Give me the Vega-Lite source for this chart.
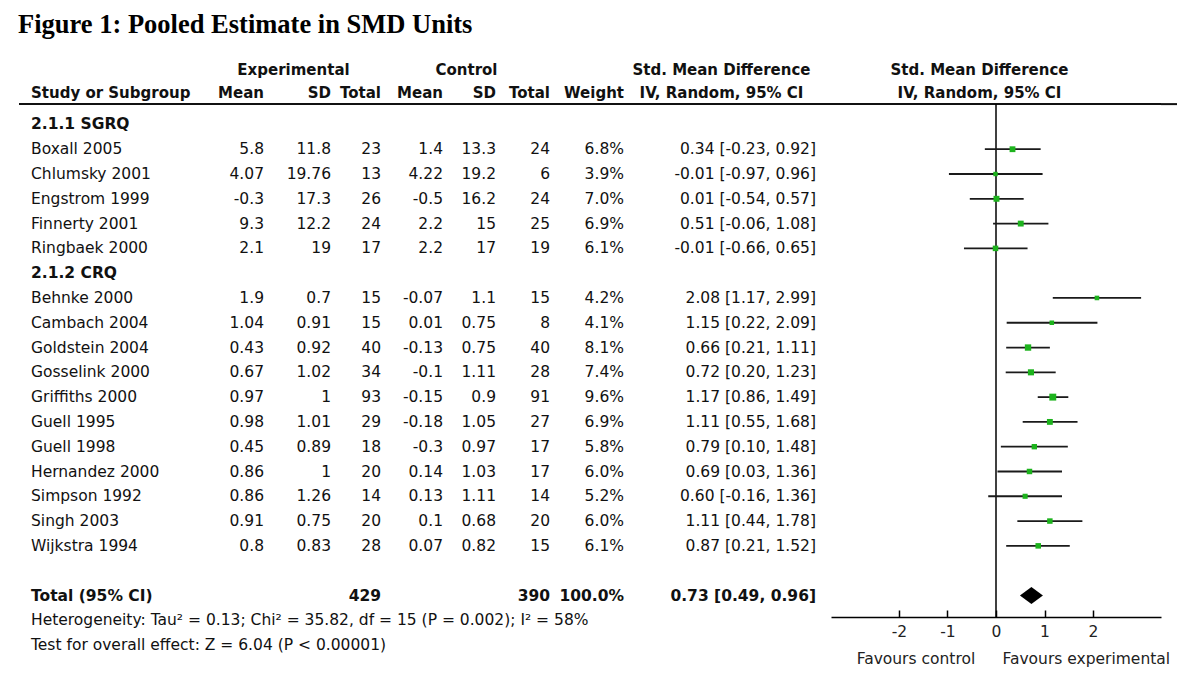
{
  "$schema": "https://vega.github.io/schema/vega-lite/v6.json",
  "background": "white",
  "padding": {"left": 18, "top": 12, "right": 24, "bottom": 0},
  "title": {"text": "Figure 1: Pooled Estimate in SMD Units", "anchor": "start", "font": "Liberation Serif", "fontSize": 26.5, "fontWeight": "bold", "color": "#000", "offset": 18.5},
  "spacing": 0,
  "bounds": "flush",
  "config": {
    "view": {"stroke": null},
    "text": {"font": "DejaVu Sans", "fontSize": 15.5, "color": "#111", "baseline": "middle"}
  },
  "datasets": {
    "rows": [
      {"row": 0, "kind": "group", "label": "2.1.1 SGRQ"},
      {"row": 1, "kind": "study", "label": "Boxall 2005", "me": 5.8, "sde": 11.8, "ne": 23, "mc": 1.4, "sdc": 13.3, "nc": 24, "weight": 0.068, "ci": "0.34 [-0.23, 0.92]", "est": 0.34, "lo": -0.23, "hi": 0.92},
      {"row": 2, "kind": "study", "label": "Chlumsky 2001", "me": 4.07, "sde": 19.76, "ne": 13, "mc": 4.22, "sdc": 19.2, "nc": 6, "weight": 0.039, "ci": "-0.01 [-0.97, 0.96]", "est": -0.01, "lo": -0.97, "hi": 0.96},
      {"row": 3, "kind": "study", "label": "Engstrom 1999", "me": -0.3, "sde": 17.3, "ne": 26, "mc": -0.5, "sdc": 16.2, "nc": 24, "weight": 0.07, "ci": "0.01 [-0.54, 0.57]", "est": 0.01, "lo": -0.54, "hi": 0.57},
      {"row": 4, "kind": "study", "label": "Finnerty 2001", "me": 9.3, "sde": 12.2, "ne": 24, "mc": 2.2, "sdc": 15, "nc": 25, "weight": 0.069, "ci": "0.51 [-0.06, 1.08]", "est": 0.51, "lo": -0.06, "hi": 1.08},
      {"row": 5, "kind": "study", "label": "Ringbaek 2000", "me": 2.1, "sde": 19, "ne": 17, "mc": 2.2, "sdc": 17, "nc": 19, "weight": 0.061, "ci": "-0.01 [-0.66, 0.65]", "est": -0.01, "lo": -0.66, "hi": 0.65},
      {"row": 6, "kind": "group", "label": "2.1.2 CRQ"},
      {"row": 7, "kind": "study", "label": "Behnke 2000", "me": 1.9, "sde": 0.7, "ne": 15, "mc": -0.07, "sdc": 1.1, "nc": 15, "weight": 0.042, "ci": "2.08 [1.17, 2.99]", "est": 2.08, "lo": 1.17, "hi": 2.99},
      {"row": 8, "kind": "study", "label": "Cambach 2004", "me": 1.04, "sde": 0.91, "ne": 15, "mc": 0.01, "sdc": 0.75, "nc": 8, "weight": 0.041, "ci": "1.15 [0.22, 2.09]", "est": 1.15, "lo": 0.22, "hi": 2.09},
      {"row": 9, "kind": "study", "label": "Goldstein 2004", "me": 0.43, "sde": 0.92, "ne": 40, "mc": -0.13, "sdc": 0.75, "nc": 40, "weight": 0.081, "ci": "0.66 [0.21, 1.11]", "est": 0.66, "lo": 0.21, "hi": 1.11},
      {"row": 10, "kind": "study", "label": "Gosselink 2000", "me": 0.67, "sde": 1.02, "ne": 34, "mc": -0.1, "sdc": 1.11, "nc": 28, "weight": 0.074, "ci": "0.72 [0.20, 1.23]", "est": 0.72, "lo": 0.2, "hi": 1.23},
      {"row": 11, "kind": "study", "label": "Griffiths 2000", "me": 0.97, "sde": 1, "ne": 93, "mc": -0.15, "sdc": 0.9, "nc": 91, "weight": 0.096, "ci": "1.17 [0.86, 1.49]", "est": 1.17, "lo": 0.86, "hi": 1.49},
      {"row": 12, "kind": "study", "label": "Guell 1995", "me": 0.98, "sde": 1.01, "ne": 29, "mc": -0.18, "sdc": 1.05, "nc": 27, "weight": 0.069, "ci": "1.11 [0.55, 1.68]", "est": 1.11, "lo": 0.55, "hi": 1.68},
      {"row": 13, "kind": "study", "label": "Guell 1998", "me": 0.45, "sde": 0.89, "ne": 18, "mc": -0.3, "sdc": 0.97, "nc": 17, "weight": 0.058, "ci": "0.79 [0.10, 1.48]", "est": 0.79, "lo": 0.1, "hi": 1.48},
      {"row": 14, "kind": "study", "label": "Hernandez 2000", "me": 0.86, "sde": 1, "ne": 20, "mc": 0.14, "sdc": 1.03, "nc": 17, "weight": 0.06, "ci": "0.69 [0.03, 1.36]", "est": 0.69, "lo": 0.03, "hi": 1.36},
      {"row": 15, "kind": "study", "label": "Simpson 1992", "me": 0.86, "sde": 1.26, "ne": 14, "mc": 0.13, "sdc": 1.11, "nc": 14, "weight": 0.052, "ci": "0.60 [-0.16, 1.36]", "est": 0.6, "lo": -0.16, "hi": 1.36},
      {"row": 16, "kind": "study", "label": "Singh 2003", "me": 0.91, "sde": 0.75, "ne": 20, "mc": 0.1, "sdc": 0.68, "nc": 20, "weight": 0.06, "ci": "1.11 [0.44, 1.78]", "est": 1.11, "lo": 0.44, "hi": 1.78},
      {"row": 17, "kind": "study", "label": "Wijkstra 1994", "me": 0.8, "sde": 0.83, "ne": 28, "mc": 0.07, "sdc": 0.82, "nc": 15, "weight": 0.061, "ci": "0.87 [0.21, 1.52]", "est": 0.87, "lo": 0.21, "hi": 1.52},
      {"row": 19, "kind": "total", "label": "Total (95% CI)", "ne": 429, "nc": 390, "weight": 1.0, "ci": "0.73 [0.49, 0.96]", "est": 0.73, "lo": 0.49, "hi": 0.96},
      {"row": 20, "kind": "note", "label": "Heterogeneity: Tau² = 0.13; Chi² = 35.82, df = 15 (P = 0.002); I² = 58%"},
      {"row": 21, "kind": "note", "label": "Test for overall effect: Z = 6.04 (P < 0.00001)"}
    ]
  },
  "data": {"name": "rows"},
  "hconcat": [
    {
      "width": 197, "height": 600,
      "layer": [
        {"data": {"values": [{}]}, "mark": {"type": "text", "align": "left", "dx": 12, "fontWeight": "bold", "fontSize": 15},
         "encoding": {"x": {"value": 0}, "y": {"datum": -1.27, "type": "quantitative", "scale": {"domain": [-2.72, 21.48], "nice": false, "zero": false, "reverse": true}, "axis": null}, "text": {"value": "Study or Subgroup"}}},
        {"transform": [{"filter": "datum.kind === 'group' || datum.kind === 'total'"}], "mark": {"type": "text", "align": "left", "dx": 12, "fontWeight": "bold"},
         "encoding": {"x": {"value": 0}, "y": {"field": "row", "type": "quantitative", "scale": {"domain": [-2.72, 21.48], "nice": false, "zero": false, "reverse": true}, "axis": null}, "text": {"field": "label", "type": "nominal"}}},
        {"transform": [{"filter": "datum.kind === 'study' || datum.kind === 'note'"}], "mark": {"type": "text", "align": "left", "dx": 12},
         "encoding": {"x": {"value": 0}, "y": {"field": "row", "type": "quantitative", "scale": {"domain": [-2.72, 21.48], "nice": false, "zero": false, "reverse": true}, "axis": null}, "text": {"field": "label", "type": "nominal"}}},
        {"data": {"values": [{}]}, "mark": {"type": "rule", "color": "#111", "strokeWidth": 2},
         "encoding": {"y": {"datum": -0.82, "type": "quantitative", "scale": {"domain": [-2.72, 21.48], "nice": false, "zero": false, "reverse": true}, "axis": null}}}
      ]
    },
    {
      "width": 48, "height": 600,
      "layer": [
        {"data": {"values": [{}]}, "mark": {"type": "text", "align": "right", "fontWeight": "bold", "fontSize": 15},
         "encoding": {"x": {"value": "width"}, "y": {"datum": -1.27, "type": "quantitative", "scale": {"domain": [-2.72, 21.48], "nice": false, "zero": false, "reverse": true}, "axis": null}, "text": {"value": "Mean"}}},
        {"transform": [{"filter": "datum.kind === 'study'"}], "mark": {"type": "text", "align": "right"},
         "encoding": {"x": {"value": "width"}, "y": {"field": "row", "type": "quantitative", "scale": {"domain": [-2.72, 21.48], "nice": false, "zero": false, "reverse": true}, "axis": null}, "text": {"field": "me", "type": "nominal"}}},
        {"data": {"values": [{}]}, "mark": {"type": "rule", "color": "#111", "strokeWidth": 2},
         "encoding": {"y": {"datum": -0.82, "type": "quantitative", "scale": {"domain": [-2.72, 21.48], "nice": false, "zero": false, "reverse": true}, "axis": null}}}
      ]
    },
    {
      "width": 67, "height": 600,
      "layer": [
        {"data": {"values": [{}]}, "mark": {"type": "text", "align": "right", "fontWeight": "bold", "fontSize": 15},
         "encoding": {"x": {"value": "width"}, "y": {"datum": -1.27, "type": "quantitative", "scale": {"domain": [-2.72, 21.48], "nice": false, "zero": false, "reverse": true}, "axis": null}, "text": {"value": "SD"}}},
        {"data": {"values": [{}]}, "mark": {"type": "text", "align": "center", "dx": -4, "fontWeight": "bold", "fontSize": 15},
         "encoding": {"y": {"datum": -2.19, "type": "quantitative", "scale": {"domain": [-2.72, 21.48], "nice": false, "zero": false, "reverse": true}, "axis": null}, "text": {"value": "Experimental"}}},
        {"transform": [{"filter": "datum.kind === 'study'"}], "mark": {"type": "text", "align": "right"},
         "encoding": {"x": {"value": "width"}, "y": {"field": "row", "type": "quantitative", "scale": {"domain": [-2.72, 21.48], "nice": false, "zero": false, "reverse": true}, "axis": null}, "text": {"field": "sde", "type": "nominal"}}},
        {"data": {"values": [{}]}, "mark": {"type": "rule", "color": "#111", "strokeWidth": 2},
         "encoding": {"y": {"datum": -0.82, "type": "quantitative", "scale": {"domain": [-2.72, 21.48], "nice": false, "zero": false, "reverse": true}, "axis": null}}}
      ]
    },
    {
      "width": 50, "height": 600,
      "layer": [
        {"data": {"values": [{}]}, "mark": {"type": "text", "align": "right", "fontWeight": "bold", "fontSize": 15},
         "encoding": {"x": {"value": "width"}, "y": {"datum": -1.27, "type": "quantitative", "scale": {"domain": [-2.72, 21.48], "nice": false, "zero": false, "reverse": true}, "axis": null}, "text": {"value": "Total"}}},
        {"transform": [{"filter": "datum.kind === 'study'"}], "mark": {"type": "text", "align": "right"},
         "encoding": {"x": {"value": "width"}, "y": {"field": "row", "type": "quantitative", "scale": {"domain": [-2.72, 21.48], "nice": false, "zero": false, "reverse": true}, "axis": null}, "text": {"field": "ne", "type": "nominal"}}},
        {"transform": [{"filter": "datum.kind === 'total'"}], "mark": {"type": "text", "align": "right", "fontWeight": "bold"},
         "encoding": {"x": {"value": "width"}, "y": {"field": "row", "type": "quantitative", "scale": {"domain": [-2.72, 21.48], "nice": false, "zero": false, "reverse": true}, "axis": null}, "text": {"field": "ne", "type": "nominal"}}},
        {"data": {"values": [{}]}, "mark": {"type": "rule", "color": "#111", "strokeWidth": 2},
         "encoding": {"y": {"datum": -0.82, "type": "quantitative", "scale": {"domain": [-2.72, 21.48], "nice": false, "zero": false, "reverse": true}, "axis": null}}}
      ]
    },
    {
      "width": 62, "height": 600,
      "layer": [
        {"data": {"values": [{}]}, "mark": {"type": "text", "align": "right", "fontWeight": "bold", "fontSize": 15},
         "encoding": {"x": {"value": "width"}, "y": {"datum": -1.27, "type": "quantitative", "scale": {"domain": [-2.72, 21.48], "nice": false, "zero": false, "reverse": true}, "axis": null}, "text": {"value": "Mean"}}},
        {"transform": [{"filter": "datum.kind === 'study'"}], "mark": {"type": "text", "align": "right"},
         "encoding": {"x": {"value": "width"}, "y": {"field": "row", "type": "quantitative", "scale": {"domain": [-2.72, 21.48], "nice": false, "zero": false, "reverse": true}, "axis": null}, "text": {"field": "mc", "type": "nominal"}}},
        {"data": {"values": [{}]}, "mark": {"type": "rule", "color": "#111", "strokeWidth": 2},
         "encoding": {"y": {"datum": -0.82, "type": "quantitative", "scale": {"domain": [-2.72, 21.48], "nice": false, "zero": false, "reverse": true}, "axis": null}}}
      ]
    },
    {
      "width": 53, "height": 600,
      "layer": [
        {"data": {"values": [{}]}, "mark": {"type": "text", "align": "right", "fontWeight": "bold", "fontSize": 15},
         "encoding": {"x": {"value": "width"}, "y": {"datum": -1.27, "type": "quantitative", "scale": {"domain": [-2.72, 21.48], "nice": false, "zero": false, "reverse": true}, "axis": null}, "text": {"value": "SD"}}},
        {"data": {"values": [{}]}, "mark": {"type": "text", "align": "center", "dx": -3, "fontWeight": "bold", "fontSize": 15},
         "encoding": {"y": {"datum": -2.19, "type": "quantitative", "scale": {"domain": [-2.72, 21.48], "nice": false, "zero": false, "reverse": true}, "axis": null}, "text": {"value": "Control"}}},
        {"transform": [{"filter": "datum.kind === 'study'"}], "mark": {"type": "text", "align": "right"},
         "encoding": {"x": {"value": "width"}, "y": {"field": "row", "type": "quantitative", "scale": {"domain": [-2.72, 21.48], "nice": false, "zero": false, "reverse": true}, "axis": null}, "text": {"field": "sdc", "type": "nominal"}}},
        {"data": {"values": [{}]}, "mark": {"type": "rule", "color": "#111", "strokeWidth": 2},
         "encoding": {"y": {"datum": -0.82, "type": "quantitative", "scale": {"domain": [-2.72, 21.48], "nice": false, "zero": false, "reverse": true}, "axis": null}}}
      ]
    },
    {
      "width": 54, "height": 600,
      "layer": [
        {"data": {"values": [{}]}, "mark": {"type": "text", "align": "right", "fontWeight": "bold", "fontSize": 15},
         "encoding": {"x": {"value": "width"}, "y": {"datum": -1.27, "type": "quantitative", "scale": {"domain": [-2.72, 21.48], "nice": false, "zero": false, "reverse": true}, "axis": null}, "text": {"value": "Total"}}},
        {"transform": [{"filter": "datum.kind === 'study'"}], "mark": {"type": "text", "align": "right"},
         "encoding": {"x": {"value": "width"}, "y": {"field": "row", "type": "quantitative", "scale": {"domain": [-2.72, 21.48], "nice": false, "zero": false, "reverse": true}, "axis": null}, "text": {"field": "nc", "type": "nominal"}}},
        {"transform": [{"filter": "datum.kind === 'total'"}], "mark": {"type": "text", "align": "right", "fontWeight": "bold"},
         "encoding": {"x": {"value": "width"}, "y": {"field": "row", "type": "quantitative", "scale": {"domain": [-2.72, 21.48], "nice": false, "zero": false, "reverse": true}, "axis": null}, "text": {"field": "nc", "type": "nominal"}}},
        {"data": {"values": [{}]}, "mark": {"type": "rule", "color": "#111", "strokeWidth": 2},
         "encoding": {"y": {"datum": -0.82, "type": "quantitative", "scale": {"domain": [-2.72, 21.48], "nice": false, "zero": false, "reverse": true}, "axis": null}}}
      ]
    },
    {
      "width": 74, "height": 600,
      "layer": [
        {"data": {"values": [{}]}, "mark": {"type": "text", "align": "right", "fontWeight": "bold", "fontSize": 15},
         "encoding": {"x": {"value": "width"}, "y": {"datum": -1.27, "type": "quantitative", "scale": {"domain": [-2.72, 21.48], "nice": false, "zero": false, "reverse": true}, "axis": null}, "text": {"value": "Weight"}}},
        {"transform": [{"filter": "datum.kind === 'study'"}], "mark": {"type": "text", "align": "right"},
         "encoding": {"x": {"value": "width"}, "y": {"field": "row", "type": "quantitative", "scale": {"domain": [-2.72, 21.48], "nice": false, "zero": false, "reverse": true}, "axis": null}, "text": {"field": "weight", "type": "quantitative", "format": ".1%"}}},
        {"transform": [{"filter": "datum.kind === 'total'"}], "mark": {"type": "text", "align": "right", "fontWeight": "bold"},
         "encoding": {"x": {"value": "width"}, "y": {"field": "row", "type": "quantitative", "scale": {"domain": [-2.72, 21.48], "nice": false, "zero": false, "reverse": true}, "axis": null}, "text": {"field": "weight", "type": "quantitative", "format": ".1%"}}},
        {"data": {"values": [{}]}, "mark": {"type": "rule", "color": "#111", "strokeWidth": 2},
         "encoding": {"y": {"datum": -0.82, "type": "quantitative", "scale": {"domain": [-2.72, 21.48], "nice": false, "zero": false, "reverse": true}, "axis": null}}}
      ]
    },
    {
      "width": 207, "height": 600,
      "layer": [
        {"data": {"values": [{}]}, "mark": {"type": "text", "align": "center", "dx": -6, "fontWeight": "bold", "fontSize": 15},
         "encoding": {"y": {"datum": -2.19, "type": "quantitative", "scale": {"domain": [-2.72, 21.48], "nice": false, "zero": false, "reverse": true}, "axis": null}, "text": {"value": "Std. Mean Difference"}}},
        {"data": {"values": [{}]}, "mark": {"type": "text", "align": "center", "dx": -6, "fontWeight": "bold", "fontSize": 15},
         "encoding": {"y": {"datum": -1.27, "type": "quantitative", "scale": {"domain": [-2.72, 21.48], "nice": false, "zero": false, "reverse": true}, "axis": null}, "text": {"value": "IV, Random, 95% CI"}}},
        {"transform": [{"filter": "datum.kind === 'study'"}], "mark": {"type": "text", "align": "right", "dx": -15},
         "encoding": {"x": {"value": "width"}, "y": {"field": "row", "type": "quantitative", "scale": {"domain": [-2.72, 21.48], "nice": false, "zero": false, "reverse": true}, "axis": null}, "text": {"field": "ci", "type": "nominal"}}},
        {"transform": [{"filter": "datum.kind === 'total'"}], "mark": {"type": "text", "align": "right", "dx": -15, "fontWeight": "bold"},
         "encoding": {"x": {"value": "width"}, "y": {"field": "row", "type": "quantitative", "scale": {"domain": [-2.72, 21.48], "nice": false, "zero": false, "reverse": true}, "axis": null}, "text": {"field": "ci", "type": "nominal"}}},
        {"data": {"values": [{}]}, "mark": {"type": "rule", "color": "#111", "strokeWidth": 2},
         "encoding": {"y": {"datum": -0.82, "type": "quantitative", "scale": {"domain": [-2.72, 21.48], "nice": false, "zero": false, "reverse": true}, "axis": null}}}
      ]
    },
    {
      "width": 330, "height": 560,
      "layer": [
        {"data": {"values": [{}]}, "mark": {"type": "text", "align": "center", "fontWeight": "bold", "fontSize": 15},
         "encoding": {"x": {"datum": -0.34, "type": "quantitative", "scale": {"domain": [-3.4, 3.4], "nice": false, "zero": false}, "axis": {"title": null, "values": [-2, -1, 0, 1, 2], "grid": false, "domainColor": "#000", "domainWidth": 1.5, "tickColor": "#000", "tickWidth": 1.5, "tickSize": -7, "labelFont": "DejaVu Sans", "labelFontSize": 15.5, "labelColor": "#222", "labelPadding": 14, "labelExpr": "'' + datum.value", "labelFlush": false, "labelOverlap": false}},
                      "y": {"datum": -2.19, "type": "quantitative", "scale": {"domain": [-2.72, 19.87], "nice": false, "zero": false, "reverse": true}, "axis": null}, "text": {"value": "Std. Mean Difference"}}},
        {"data": {"values": [{}]}, "mark": {"type": "text", "align": "center", "fontWeight": "bold", "fontSize": 15},
         "encoding": {"x": {"datum": -0.34, "type": "quantitative"},
                      "y": {"datum": -1.27, "type": "quantitative"}, "text": {"value": "IV, Random, 95% CI"}}},
        {"data": {"values": [{}]}, "mark": {"type": "rule", "color": "#111", "strokeWidth": 2},
         "encoding": {"y": {"datum": -0.82, "type": "quantitative"}}},
        {"data": {"values": [{}]}, "mark": {"type": "rule", "color": "#000", "strokeWidth": 1.5},
         "encoding": {"x": {"datum": 0, "type": "quantitative"}, "y": {"datum": -0.82, "type": "quantitative"}, "y2": {"datum": 19.87}}},
        {"transform": [{"filter": "datum.kind === 'study'"}], "mark": {"type": "rule", "color": "#1a1a1a", "strokeWidth": 1.8},
         "encoding": {"x": {"field": "lo", "type": "quantitative"}, "x2": {"field": "hi"}, "y": {"field": "row", "type": "quantitative"}}},
        {"transform": [{"filter": "datum.kind === 'study'"}], "mark": {"type": "point", "shape": "square", "filled": true, "color": "#1db31d", "opacity": 1},
         "encoding": {"x": {"field": "est", "type": "quantitative"}, "y": {"field": "row", "type": "quantitative"}, "size": {"field": "weight", "type": "quantitative", "scale": {"domain": [0, 0.1], "range": [0, 50]}, "legend": null}}},
        {"transform": [{"filter": "datum.kind === 'total'"}], "mark": {"type": "point", "shape": "M-1,0L0,-0.74L1,0L0,0.74Z", "filled": true, "color": "#000", "opacity": 1, "size": 529},
         "encoding": {"x": {"field": "est", "type": "quantitative"}, "y": {"field": "row", "type": "quantitative"}}},
        {"data": {"values": [{}]}, "mark": {"type": "text", "align": "center", "color": "#222"},
         "encoding": {"x": {"datum": -1.65, "type": "quantitative"}, "y": {"datum": 21.56, "type": "quantitative"}, "text": {"value": "Favours control"}}},
        {"data": {"values": [{}]}, "mark": {"type": "text", "align": "center", "color": "#222"},
         "encoding": {"x": {"datum": 1.86, "type": "quantitative"}, "y": {"datum": 21.56, "type": "quantitative"}, "text": {"value": "Favours experimental"}}}
      ]
    },
    {
      "width": 16, "height": 600,
      "layer": [
        {"data": {"values": [{}]}, "mark": {"type": "rule", "color": "#111", "strokeWidth": 2},
         "encoding": {"y": {"datum": -0.82, "type": "quantitative", "scale": {"domain": [-2.72, 21.48], "nice": false, "zero": false, "reverse": true}, "axis": null}}}
      ]
    }
  ]
}
